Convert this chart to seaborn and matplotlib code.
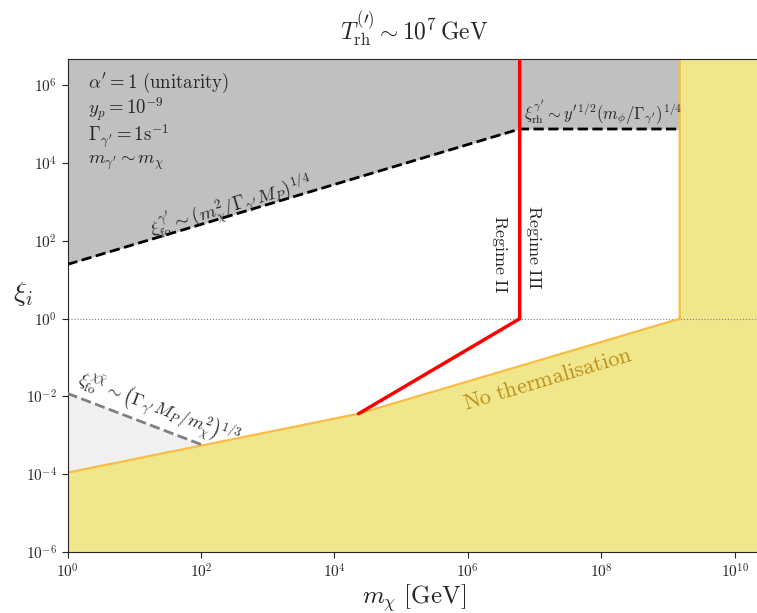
import numpy as np
import matplotlib
matplotlib.use('Agg')
import matplotlib.pyplot as plt
import seaborn as sns

# values (log-log plane)
x_min, x_max = 1.0, 2.4e10
y_min, y_max = 1e-6, 4.8e6

# black dashed: freeze-out of dark photons, then reheating plateau
fo_x = [1.0, 6e6, 1.5e9]
fo_y = [25.0, 7.6e4, 7.6e4]

# grey dashed: chi chibar freeze-out
chi_x = [1.0, 1.07e2]
chi_y = [1.2e-2, 5.6e-4]

# red line: regime boundary
red_x = [2.3e4, 6e6, 6e6]
red_y = [3.6e-3, 1.0, y_max]

# yellow boundary: no thermalisation
th_x = [1.0, 2.3e4, 1.5e9, 1.5e9]
th_y = [1.1e-4, 3.6e-3, 1.0, y_max]

sns.set_style('ticks')
plt.rcParams['font.family'] = 'serif'
plt.rcParams['font.serif'] = ['cmr10', 'DejaVu Serif']
plt.rcParams['mathtext.fontset'] = 'cm'
plt.rcParams['axes.formatter.use_mathtext'] = True

fig = plt.figure(figsize=(7.57, 6.13), dpi=100)
ax = fig.add_axes([67.5 / 757, 1 - 552 / 613, 692.5 / 757, 493 / 613])
ax.set_xscale('log')
ax.set_yscale('log')

# grey region above the dashed line
ax.fill_between(fo_x, fo_y, y_max, color='#c0c0c0', lw=0, zorder=0)

# light region between chi line and yellow boundary
th_at_chi = np.interp(np.log10(chi_x), np.log10(th_x[:2]), np.log10(th_y[:2]))
ax.fill_between(chi_x, 10 ** th_at_chi, chi_y, color='#f0f0f0', lw=0, zorder=0)

# yellow region
poly_x = [x_min] + th_x + [x_max, x_max]
poly_y = [y_min] + th_y + [y_max, y_min]
ax.fill(poly_x, poly_y, color='#f0e68c', lw=0, zorder=1)
sns.lineplot(x=th_x, y=th_y, ax=ax, estimator=None, sort=False,
             color='#f7bd45', lw=1.6, zorder=2)

ax.axhline(1.0, color='gray', ls=':', lw=0.8, zorder=1)

sns.lineplot(x=fo_x, y=fo_y, ax=ax, estimator=None, sort=False,
             color='black', lw=2, ls='--', zorder=3)
sns.lineplot(x=chi_x, y=chi_y, ax=ax, estimator=None, sort=False,
             color='gray', lw=2, ls='--', zorder=3)
sns.lineplot(x=red_x, y=red_y, ax=ax, estimator=None, sort=False,
             color='red', lw=2.5, zorder=4)

ax.set_xlim(x_min, x_max)
ax.set_ylim(y_min, y_max)
ax.set_xticks([1e0, 1e2, 1e4, 1e6, 1e8, 1e10])
ax.set_yticks([1e-6, 1e-4, 1e-2, 1e0, 1e2, 1e4, 1e6])
ax.minorticks_off()
ax.tick_params(labelsize=11, direction='out', length=4)

ax.set_xlabel(r'$m_\chi\ [{\rm GeV}]$', fontsize=18, labelpad=1)
ax.set_ylabel(r'$\xi_i$', fontsize=20, rotation=0, labelpad=14)
ax.yaxis.set_label_coords(-0.065, 0.495)
ax.set_title(r'$T_{\rm rh}^{(\prime)} \sim 10^7\,{\rm GeV}$', fontsize=17, pad=14)

# parameter block
params = [r"$\alpha' = 1\ ({\rm unitarity})$", r'$y_p = 10^{-9}$',
          r"$\Gamma_{\gamma'} = 1{\rm s}^{-1}$", r"$m_{\gamma'} \sim m_\chi$"]
for i, p in enumerate(params):
    ax.text(0.03, 0.951 - 0.0535 * i, p, transform=ax.transAxes,
            fontsize=13.5, va='center', ha='left')

ax.text(3e6, 45, r'$\rm Regime\ II$', rotation=-90, fontsize=13,
        ha='center', va='center')
ax.text(9.5e6, 67, r'$\rm Regime\ III$', rotation=-90, fontsize=13,
        ha='center', va='center')
ax.text(1.6e7, 0.027, r'$\rm No\ thermalisation$', rotation=16.5,
        fontsize=16, color='#b8860b', ha='center', va='center', alpha=0.9)
ax.text(2.8e2, 800, r"$\xi_{\rm fo}^{\gamma'} \sim (m_\chi^2/\Gamma_{\gamma'} M_P)^{1/4}$",
        rotation=16.7, fontsize=13.5, ha='center', va='center')
ax.text(23, 4.5e-3, r"$\xi_{\rm fo}^{\chi\bar\chi} \sim \left(\Gamma_{\gamma'} M_P/m_\chi^2\right)^{1/3}$",
        rotation=-20.8, fontsize=13, ha='center', va='center')
ax.text(1.07e8, 2.1e5, r"$\xi_{\rm rh}^{\gamma'} \sim y'^{1/2}(m_\phi/\Gamma_{\gamma'})^{1/4}$",
        fontsize=12, ha='center', va='center')

fig.savefig('out.png', dpi=100)
